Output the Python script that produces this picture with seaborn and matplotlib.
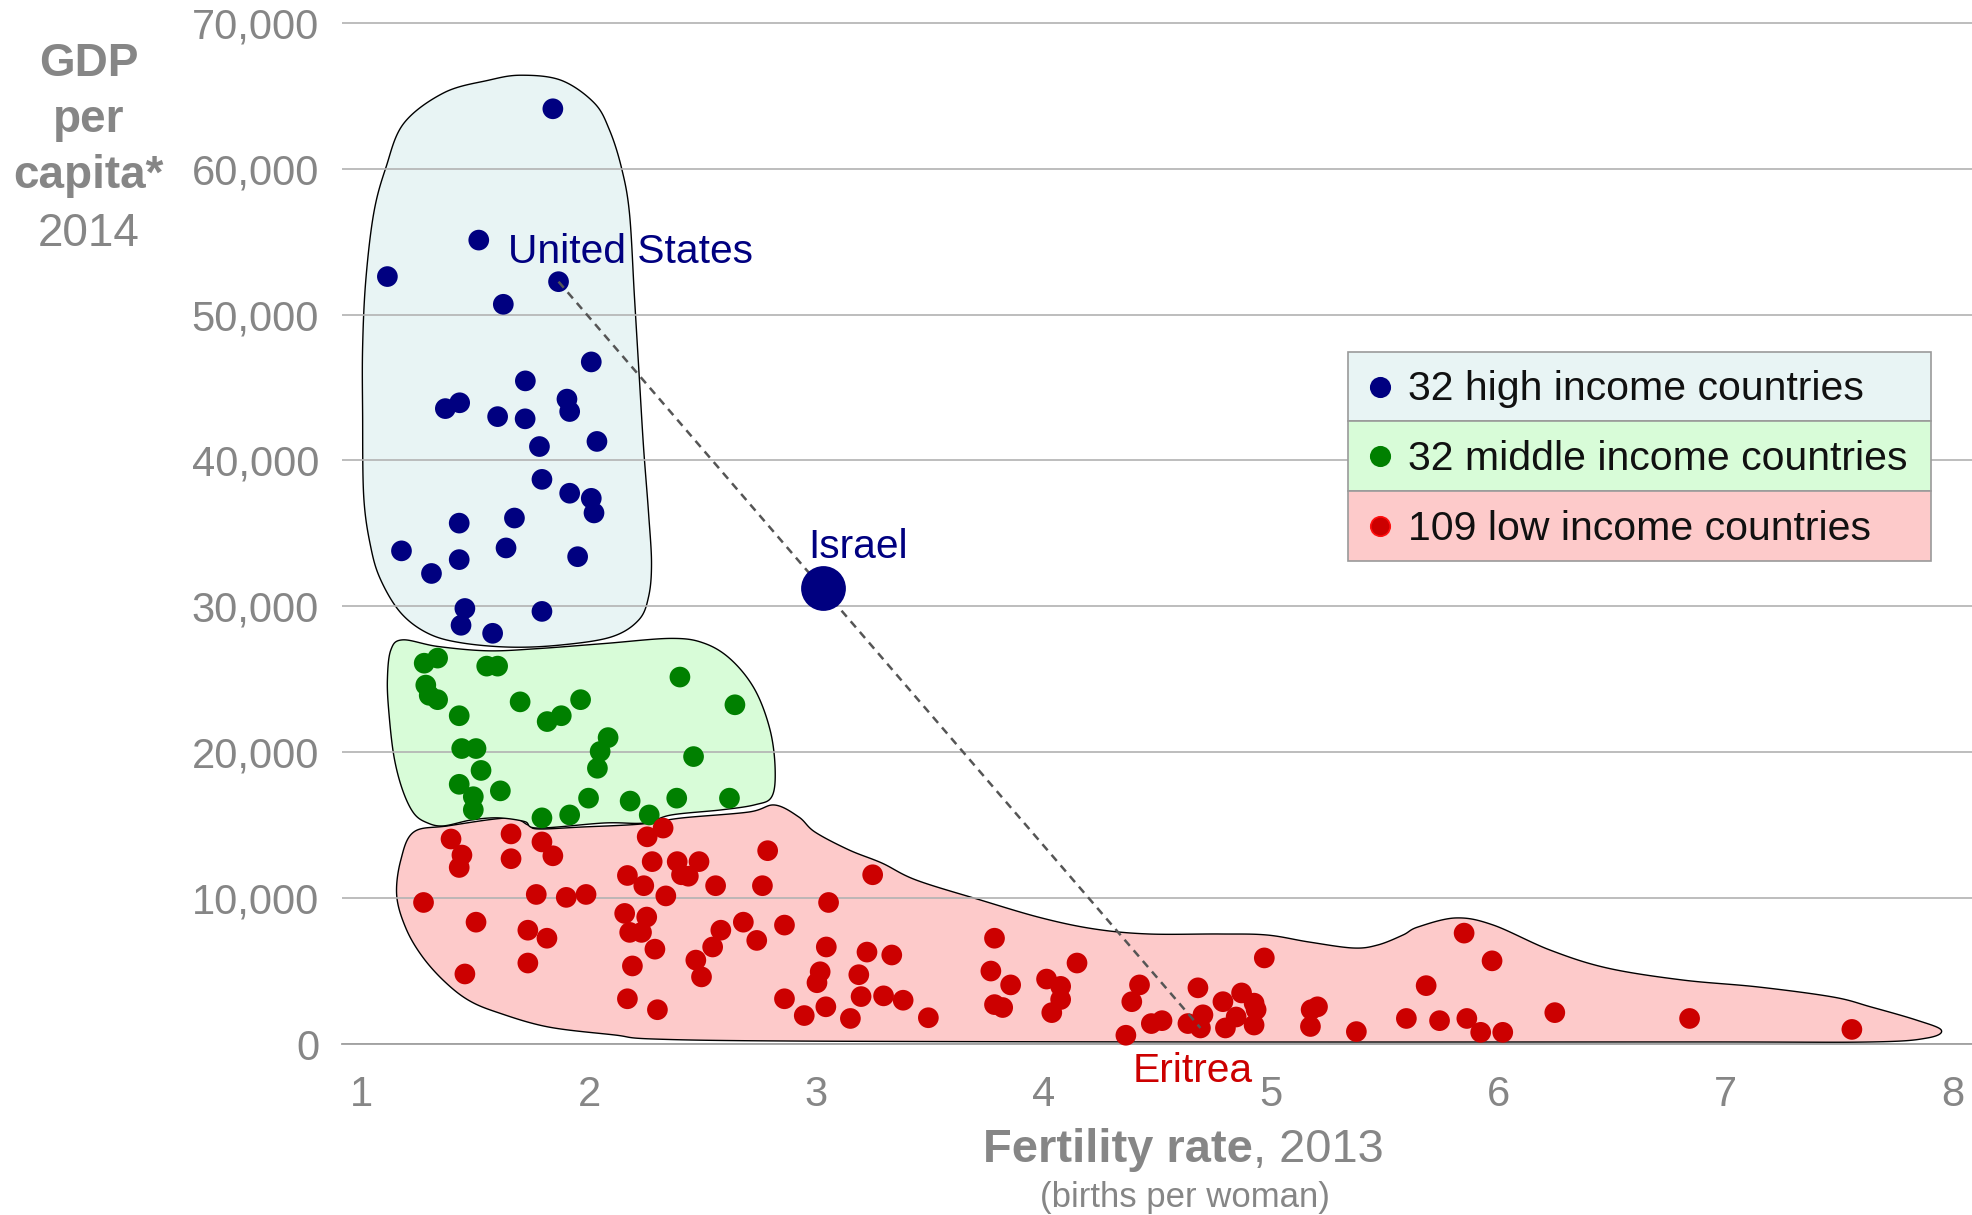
import numpy as np
import pandas as pd
import matplotlib
matplotlib.use("Agg")
import matplotlib.pyplot as plt
from matplotlib.patches import Rectangle
from matplotlib.lines import Line2D
import seaborn as sns

# ---------------- data: fertility rate 2013 vs GDP per capita 2014 ----------------
high_fert = [1.841, 1.515, 1.113, 1.623, 2.010, 1.720, 1.368, 1.431, 1.903, 1.915,
             1.598, 1.719, 2.035, 1.782, 1.793, 1.915, 2.010, 2.022, 1.429, 1.672,
             1.175, 1.635, 1.429, 1.307, 1.950, 1.454, 1.437, 1.793, 1.576]
high_gdp = [64100, 55100, 52600, 50700, 46750, 45450, 43550, 43950, 44200, 43350,
            43000, 42850, 41300, 40950, 38700, 37750, 37400, 36400, 35700, 36050,
            33800, 34000, 33200, 32250, 33400, 29850, 28700, 29650, 28150]

mid_fert = [1.275, 1.334, 1.550, 1.598, 2.400, 1.282, 1.297, 1.334, 1.429, 1.697,
            1.963, 1.816, 1.878, 2.642, 2.084, 2.049, 2.037, 1.440, 1.503, 2.460,
            1.525, 1.429, 1.610, 1.491, 1.491, 1.998, 2.181, 2.386, 2.618, 1.793,
            1.915, 2.265]
mid_gdp = [26100, 26450, 25900, 25900, 25150, 24600, 23900, 23600, 22500, 23450,
           23600, 22100, 22500, 23250, 21000, 20050, 18900, 20250, 20250, 19700,
           18750, 17800, 17350, 16950, 16050, 16850, 16650, 16850, 16850, 15500,
           15700, 15700]

low_fert = [2.326, 2.256, 1.393, 1.657, 1.793, 1.841, 1.441, 1.429, 1.657, 2.786,
            2.278, 2.388, 2.484, 2.407, 2.437, 2.169, 2.241, 2.338, 2.557, 2.763,
            3.248, 1.272, 1.768, 1.900, 1.987, 3.054, 1.503, 1.731, 1.815, 2.157,
            2.254, 2.179, 2.231, 2.290, 2.580, 2.544, 2.679, 2.738, 2.860, 3.044,
            3.223, 1.731, 2.191, 2.470, 2.495, 3.017, 3.003, 3.187, 1.454, 2.169,
            2.301, 2.860, 2.947, 3.042, 3.150, 3.197, 3.332, 3.296, 3.382, 3.493,
            3.784, 3.768, 3.855, 3.784, 3.820, 4.147, 4.013, 4.075, 4.075, 4.036,
            4.422, 4.388, 4.362, 4.474, 4.521, 4.635, 4.679, 4.701, 4.789, 4.871,
            4.926, 4.935, 4.847, 4.800, 4.926, 4.971, 5.205, 5.177, 5.174, 5.376,
            5.596, 5.850, 5.973, 5.683, 5.742, 5.862, 5.923, 6.020, 6.249, 6.842,
            7.556]
low_gdp = [14800, 14200, 14050, 14400, 13850, 12900, 12950, 12100, 12700, 13250,
           12500, 12500, 12500, 11600, 11500, 11550, 10850, 10150, 10850, 10850,
           11600, 9700, 10250, 10050, 10250, 9700, 8350, 7800, 7250, 8950,
           8700, 7650, 7650, 6500, 7800, 6650, 8350, 7100, 8150, 6650,
           6300, 5550, 5350, 5750, 4600, 4950, 4200, 4750, 4800, 3100,
           2350, 3100, 1950, 2550, 1750, 3250, 6100, 3300, 3000, 1800,
           7250, 5000, 4050, 2700, 2500, 5550, 4450, 3950, 3050, 2150,
           4050, 2900, 600, 1400, 1600, 1400, 3850, 2000, 2900, 3500,
           2800, 2350, 1850, 1100, 1300, 5900, 2550, 2350, 1200, 850,
           1750, 7600, 5700, 4000, 1600, 1750, 800, 800, 2150, 1750,
           1000]

named_country = ["United States", "Israel", "Eritrea"]
named_income = ["high", "high", "low"]
named_fert = [1.866, 3.030, 4.690]
named_gdp = [52250, 31250, 1100]

# outlines of the three income groups
high_region_fert = [1.701, 1.878, 2.023, 2.090, 2.143, 2.178, 2.200, 2.222, 2.240, 2.262,
                    2.275, 2.262, 2.218, 2.098, 1.878, 1.657, 1.437, 1.291, 1.172, 1.084,
                    1.040, 1.009, 1.004, 1.004, 1.018, 1.053, 1.106, 1.185, 1.362, 1.556]
high_region_gdp = [66400, 66050, 64500, 62650, 60050, 56950, 51200, 45500, 40900, 36400,
                   32950, 30650, 29050, 27900, 27350, 27200, 27500, 28150, 29550, 31800,
                   34050, 37500, 43250, 47750, 52350, 56950, 60050, 63100, 65200, 66050]

mid_region_fert = [1.180, 1.334, 1.554, 1.775, 2.069, 2.363, 2.510, 2.628, 2.731, 2.797,
                   2.819, 2.804, 2.731, 2.584, 2.363, 2.245, 2.069, 1.775, 1.716, 1.599,
                   1.481, 1.360, 1.290, 1.230, 1.180, 1.142, 1.120, 1.113, 1.128]
mid_region_gdp = [27700, 27250, 26950, 27100, 27450, 27800, 27450, 26300, 24250, 21500,
                  18800, 16950, 16400, 16050, 15700, 15150, 15150, 14800, 15250, 15500,
                  15350, 14950, 15150, 15800, 17400, 19700, 22650, 24950, 27000]

low_region_fert = [1.229, 1.379, 1.644, 1.732, 1.776, 1.966, 2.231, 2.407, 2.703, 2.817,
                   2.923, 2.994, 3.144, 3.289, 3.439, 3.722, 3.991, 4.225, 4.463, 4.776,
                   4.983, 5.168, 5.362, 5.471, 5.581, 5.647, 5.814, 5.977, 6.228, 6.479,
                   6.809, 7.143, 7.473, 7.640, 7.838, 7.949, 7.887, 7.640, 6.888, 4.701,
                   2.937, 2.288, 2.112, 1.820, 1.600, 1.470, 1.362, 1.265, 1.194, 1.154,
                   1.172]
low_region_gdp = [14530, 14950, 15490, 15010, 14740, 14870, 15080, 15490, 15900, 16380,
                  15560, 14530, 13300, 12400, 11240, 9870, 8640, 7880, 7540, 7540,
                  7470, 6990, 6580, 6790, 7470, 8020, 8640, 8160, 6440, 5210,
                  4390, 3910, 3220, 2540, 1650, 960, 410, 140, 140, 140,
                  200, 340, 620, 1170, 2150, 3000, 4320, 6030, 7950, 10180,
                  12610]

legend_labels = ["32 high income countries", "32 middle income countries",
                 "109 low income countries"]
x_ticks = [1, 2, 3, 4, 5, 6, 7, 8]
y_ticks = [0, 10000, 20000, 30000, 40000, 50000, 60000, 70000]

# ---------------- styling ----------------
NAVY, GREEN, RED = "#000080", "#008000", "#cc0000"
FILL = {"high": "#e8f4f4", "middle": "#d8fcd8", "low": "#fdcaca"}
GREY = "#868686"

sns.set_style("white")
plt.rcParams["font.family"] = ["Liberation Sans", "DejaVu Sans"]

W, H = 1972, 1215
fig = plt.figure(figsize=(W / 100, H / 100), dpi=100)


def fx(px):
    return px / W


def fy(py):
    return 1 - py / H


ax = fig.add_axes([fx(342), fy(1044), fx(1972) - fx(342), fy(0) - fy(1044)])
ax.set_xlim(1 + (342 - 361.7) / 227.3, 1 + (1972 - 361.7) / 227.3)
ax.set_ylim(0, 71556)


def smooth_closed(xs, ys, steps=24):
    """Closed Catmull-Rom curve through the given vertices."""
    p = np.column_stack([xs, ys]).astype(float)
    n = len(p)
    t = np.linspace(0, 1, steps, endpoint=False)[:, None]
    out = []
    for i in range(n):
        p0, p1, p2, p3 = p[i - 1], p[i], p[(i + 1) % n], p[(i + 2) % n]
        out.append(0.5 * (2 * p1 + (p2 - p0) * t
                          + (2 * p0 - 5 * p1 + 4 * p2 - p3) * t ** 2
                          + (3 * p1 - p0 - 3 * p2 + p3) * t ** 3))
    out = np.vstack(out)
    return out[:, 0], out[:, 1]


for rx, ry, key in [(low_region_fert, low_region_gdp, "low"),
                    (mid_region_fert, mid_region_gdp, "middle"),
                    (high_region_fert, high_region_gdp, "high")]:
    sx, sy = smooth_closed(rx, ry)
    ax.fill(sx, sy, facecolor=FILL[key], edgecolor="black", linewidth=1.0, zorder=0.3)

# grid and axes
ax.set_axisbelow(True)
ax.set_yticks(y_ticks)
ax.set_yticklabels([f"{v:,}" for v in y_ticks])
ax.set_xticks(x_ticks)
ax.set_xticklabels([str(v) for v in x_ticks])
ax.yaxis.grid(True, color="#b2b2b2", linewidth=1.2)
ax.xaxis.grid(False)
for side in ["left", "top", "right"]:
    ax.spines[side].set_visible(False)
ax.spines["bottom"].set_color("#a0a0a0")
ax.spines["bottom"].set_linewidth(1.3)
ax.tick_params(axis="y", length=0, pad=16.5, labelsize=30, labelcolor=GREY)
ax.tick_params(axis="x", length=7, width=1.1, color="#a0a0a0", direction="out",
               pad=15, labelsize=30, labelcolor=GREY)

# scatter of all countries
us_i, il_i, er_i = 0, 1, 2
points = pd.DataFrame({
    "fertility": high_fert + [named_fert[us_i]] + mid_fert + low_fert + [named_fert[er_i]],
    "gdp": high_gdp + [named_gdp[us_i]] + mid_gdp + low_gdp + [named_gdp[er_i]],
    "income": ["high"] * (len(high_fert) + 1) + ["middle"] * len(mid_fert)
              + ["low"] * (len(low_fert) + 1),
})
sns.scatterplot(data=points, x="fertility", y="gdp", hue="income",
                palette={"high": NAVY, "middle": GREEN, "low": RED},
                s=222, linewidth=0, legend=False, ax=ax, zorder=3, clip_on=False)

# line from the United States to Eritrea, running through Israel
ax.plot([named_fert[us_i], named_fert[er_i]], [named_gdp[us_i], named_gdp[er_i]],
        color="#555555", linewidth=1.8, dashes=(3.2, 2.4), zorder=4)

sns.scatterplot(x=[named_fert[il_i]], y=[named_gdp[il_i]], color=NAVY, s=1040,
                linewidth=0, legend=False, ax=ax, zorder=5, clip_on=False)
ax.set_xlabel("")
ax.set_ylabel("")

ax.text(1.645, 53500, named_country[us_i], color=NAVY, fontsize=29.3,
        ha="left", va="baseline", zorder=6)
ax.text(2.963, 33300, named_country[il_i], color=NAVY, fontsize=29.3,
        ha="left", va="baseline", zorder=6)
ax.text(4.657, -2600, named_country[er_i], color=RED, fontsize=29.3,
        ha="center", va="baseline", zorder=6, clip_on=False)

# axis titles
fig.text(fx(1253), fy(1162), "Fertility rate", ha="right", va="baseline",
         fontsize=33.8, fontweight="bold", color=GREY)
fig.text(fx(1253), fy(1162), ", 2013", ha="left", va="baseline",
         fontsize=33.8, color=GREY)
fig.text(fx(1185), fy(1207), "(births per woman)", ha="center", va="baseline",
         fontsize=25, color=GREY)

for txt, base, bold in [("GDP", 76, True), ("per", 132, True),
                        ("capita*", 188, True), ("2014", 246.5, False)]:
    fig.text(fx(88.5), fy(base), txt, ha="center", va="baseline", fontsize=33,
             fontweight="bold" if bold else "normal", color=GREY)

# legend box with tinted rows
row_top, row_h = 351.7, 69.7
legend_dots = [(NAVY, NAVY), (GREEN, GREEN), (RED, "#ff1010")]
for i, (label, key) in enumerate(zip(legend_labels, ["high", "middle", "low"])):
    top = row_top + i * row_h
    fig.patches.append(Rectangle((fx(1348), fy(top + row_h)), fx(1931) - fx(1348),
                                 fy(top) - fy(top + row_h), transform=fig.transFigure,
                                 facecolor=FILL[key], edgecolor="#9a9a9a",
                                 linewidth=1.2, zorder=5))
    face, edge = legend_dots[i]
    fig.add_artist(Line2D([fx(1379.5)], [fy(top + 35)], marker="o", markersize=14,
                          markerfacecolor=face, markeredgecolor=edge,
                          markeredgewidth=1.2, linestyle="none",
                          transform=fig.transFigure, zorder=6))
    fig.text(fx(1408.5), fy(top + 48.5), label, ha="left", va="baseline",
             fontsize=29.5, color="#111111", zorder=7)

fig.savefig("out.png", dpi=100)
